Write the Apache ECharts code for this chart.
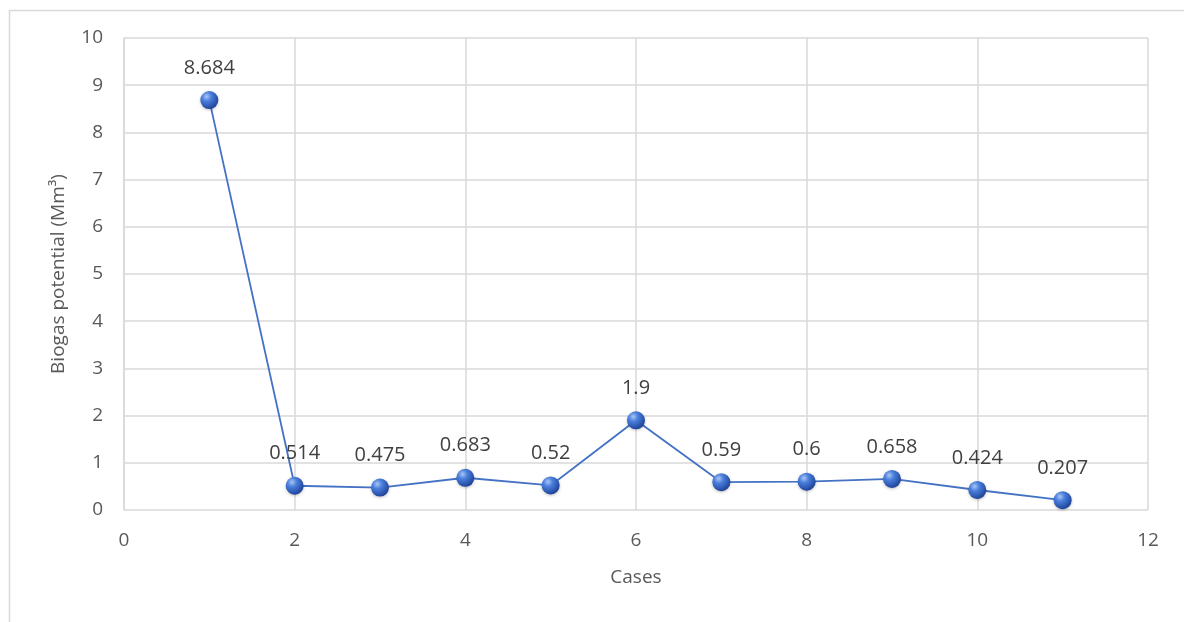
<!DOCTYPE html>
<html>
<head>
<meta charset="utf-8">
<style>
  html, body { margin: 0; padding: 0; background: #fff; }
  #chart-container { width: 1184px; height: 622px; }
</style>
<script src="https://cdn.jsdelivr.net/npm/echarts@6/dist/echarts.min.js"></script>
</head>
<body>
<div id="chart-container"></div>
<script>
var cases = [1, 2, 3, 4, 5, 6, 7, 8, 9, 10, 11];
var potential = [8.684, 0.514, 0.475, 0.683, 0.52, 1.9, 0.59, 0.6, 0.658, 0.424, 0.207];

var dom = document.getElementById('chart-container');
var myChart = echarts.init(dom, null, {renderer: 'canvas'});

var font = '"Open Sans", "Liberation Sans", sans-serif';
var sphere = new echarts.graphic.RadialGradient(0.35, 0.3, 0.75, [
  {offset: 0, color: '#a9c6f5'},
  {offset: 0.35, color: '#4a7fdc'},
  {offset: 1, color: '#1c3f95'}
]);

option = {
  backgroundColor: '#fff',
  animation: false,
  graphic: [
    {
      type: 'rect', left: 7, top: 8, z: -1,
      shape: {width: 1200, height: 640},
      style: {fill: 'none', stroke: '#d9d9d9', lineWidth: 1.5}
    }
  ],
  grid: {left: 124, right: 36, top: 38, bottom: 112},
  xAxis: {
    type: 'value', min: 0, max: 12, interval: 2,
    name: 'Cases', nameLocation: 'middle', nameGap: 58,
    nameTextStyle: {fontFamily: font, fontSize: 19, color: '#595959'},
    axisLine: {show: false}, axisTick: {show: false},
    axisLabel: {fontFamily: font, fontSize: 19, color: '#595959', margin: 21},
    splitLine: {show: true, lineStyle: {color: '#d9d9d9', width: 1.5}}
  },
  yAxis: {
    type: 'value', min: 0, max: 10, interval: 1,
    name: 'Biogas potential (Mm³)', nameLocation: 'middle', nameGap: 56,
    nameTextStyle: {fontFamily: font, fontSize: 19, color: '#595959'},
    axisLine: {show: true, lineStyle: {color: '#d9d9d9', width: 1.5}},
    axisTick: {show: false},
    axisLabel: {fontFamily: font, fontSize: 19, color: '#595959', margin: 21},
    splitLine: {show: true, lineStyle: {color: '#d9d9d9', width: 1.5}}
  },
  series: [
    {
      type: 'line',
      data: cases.map(function (c, i) { return [c, potential[i]]; }),
      symbol: 'circle', symbolSize: 18,
      lineStyle: {color: '#4472c4', width: 1.8},
      itemStyle: {color: sphere, borderWidth: 0, shadowColor: 'rgba(0,0,0,0.25)', shadowBlur: 3, shadowOffsetY: 1},
      label: {
        show: true, position: 'top', distance: 13,
        fontFamily: font, fontSize: 20, color: '#404040',
        formatter: function (p) { return p.value[1]; }
      }
    }
  ]
};

myChart.setOption(option);
window.addEventListener('resize', myChart.resize);
</script>
</body>
</html>
